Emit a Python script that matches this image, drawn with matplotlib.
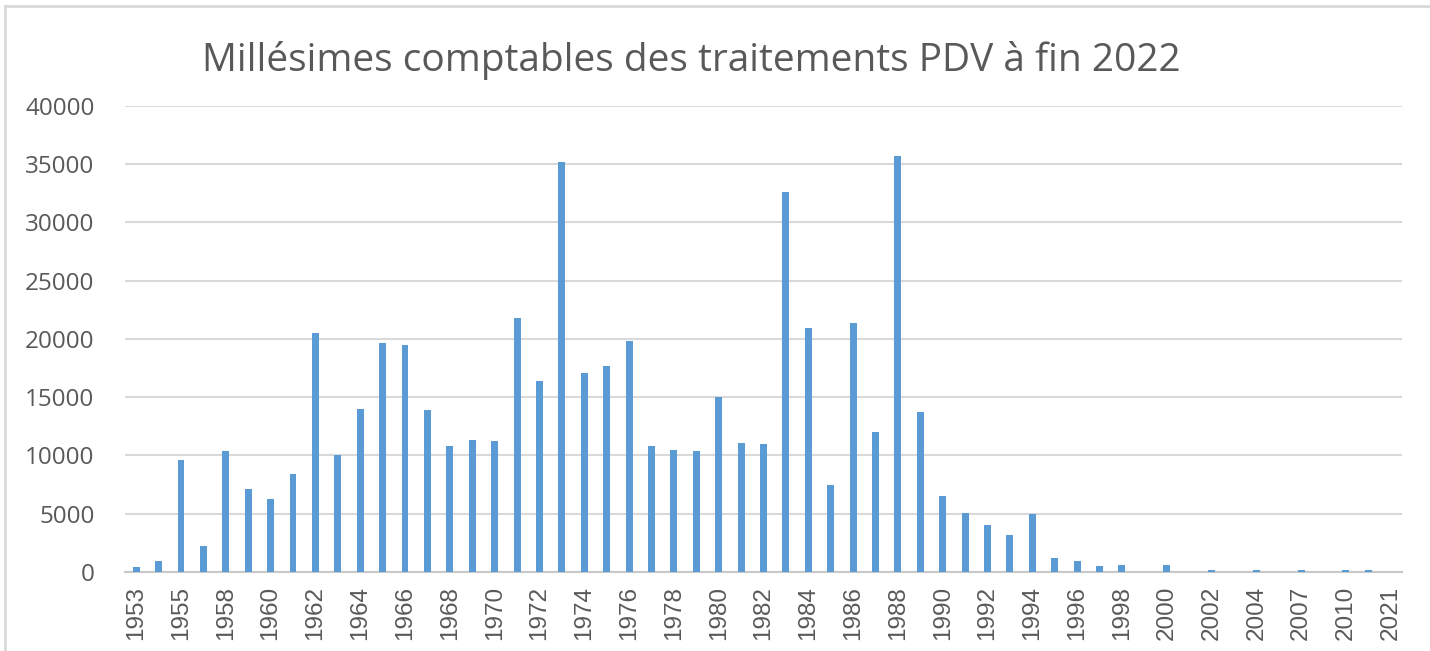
import matplotlib
matplotlib.use("Agg")
import matplotlib.pyplot as plt
from matplotlib.lines import Line2D
import numpy as np

# données (années comptables / nombre de traitements)
annees = ['1953', '1954', '1955', '1957', '1958', '1959', '1960', '1961',
          '1962', '1963', '1964', '1965', '1966', '1967', '1968', '1969',
          '1970', '1971', '1972', '1973', '1974', '1975', '1976', '1977',
          '1978', '1979', '1980', '1981', '1982', '1983', '1984', '1985',
          '1986', '1987', '1988', '1989', '1990', '1991', '1992', '1993',
          '1994', '1995', '1996', '1997', '1998', '1999', '2000', '2001',
          '2002', '2003', '2004', '2006', '2007', '2009', '2010', '2011',
          '2021']
traitements = [450, 950, 9600, 2200, 10400, 7100, 6300, 8400,
               20500, 10000, 14000, 19650, 19500, 13900, 10800, 11300,
               11250, 21800, 16400, 35200, 17100, 17700, 19800, 10800,
               10500, 10400, 15000, 11100, 11000, 32600, 20900, 7500,
               21400, 12000, 35700, 13700, 6500, 5100, 4000, 3200,
               5000, 1200, 950, 500, 600, 0, 600, 0,
               150, 0, 150, 0, 200, 0, 200, 200,
               0]

titre = "Millésimes comptables des traitements PDV à fin 2022"
bleu = '#5B9BD5'
gris_texte = '#595959'

fig = plt.figure(figsize=(14.3, 6.51), dpi=100)
ax = fig.add_axes([0.0874, 0.1214, 0.8930, 0.7158])

x = np.arange(len(annees))
ax.bar(x, traitements, width=0.31, color=bleu, zorder=3)

ax.set_xlim(-0.5, len(annees) - 0.5)
ax.set_ylim(0, 40000)
ax.set_yticks(np.arange(0, 40001, 5000))
ax.set_yticklabels([str(v) for v in range(0, 40001, 5000)],
                   fontsize=17.5, color=gris_texte, family='Open Sans')
ax.set_xticks(x[::2])
ax.set_xticklabels(annees[::2], rotation=90, fontsize=17.5,
                   color=gris_texte, family='Liberation Sans')
ax.tick_params(axis='y', length=0, pad=22)
ax.tick_params(axis='x', length=0, pad=10)

ax.grid(axis='y', color='#D9D9D9', linewidth=1.5, zorder=0)
for s in ['top', 'right', 'left']:
    ax.spines[s].set_visible(False)
ax.spines['bottom'].set_color('#C8C8C8')
ax.spines['bottom'].set_linewidth(1.5)

fig.text(691 / 1430, 1 - 60 / 651, titre, ha='center', va='center',
         fontsize=28, color=gris_texte, family='Open Sans')

# cadre gris clair (bords gauche et haut)
fig.add_artist(Line2D([5 / 1430, 5 / 1430], [0, 1 - 6 / 651],
                      transform=fig.transFigure, color='#D9D9D9', linewidth=2))
fig.add_artist(Line2D([5 / 1430, 1], [1 - 6 / 651, 1 - 6 / 651],
                      transform=fig.transFigure, color='#D9D9D9', linewidth=2))

fig.savefig('out.png', dpi=100)
